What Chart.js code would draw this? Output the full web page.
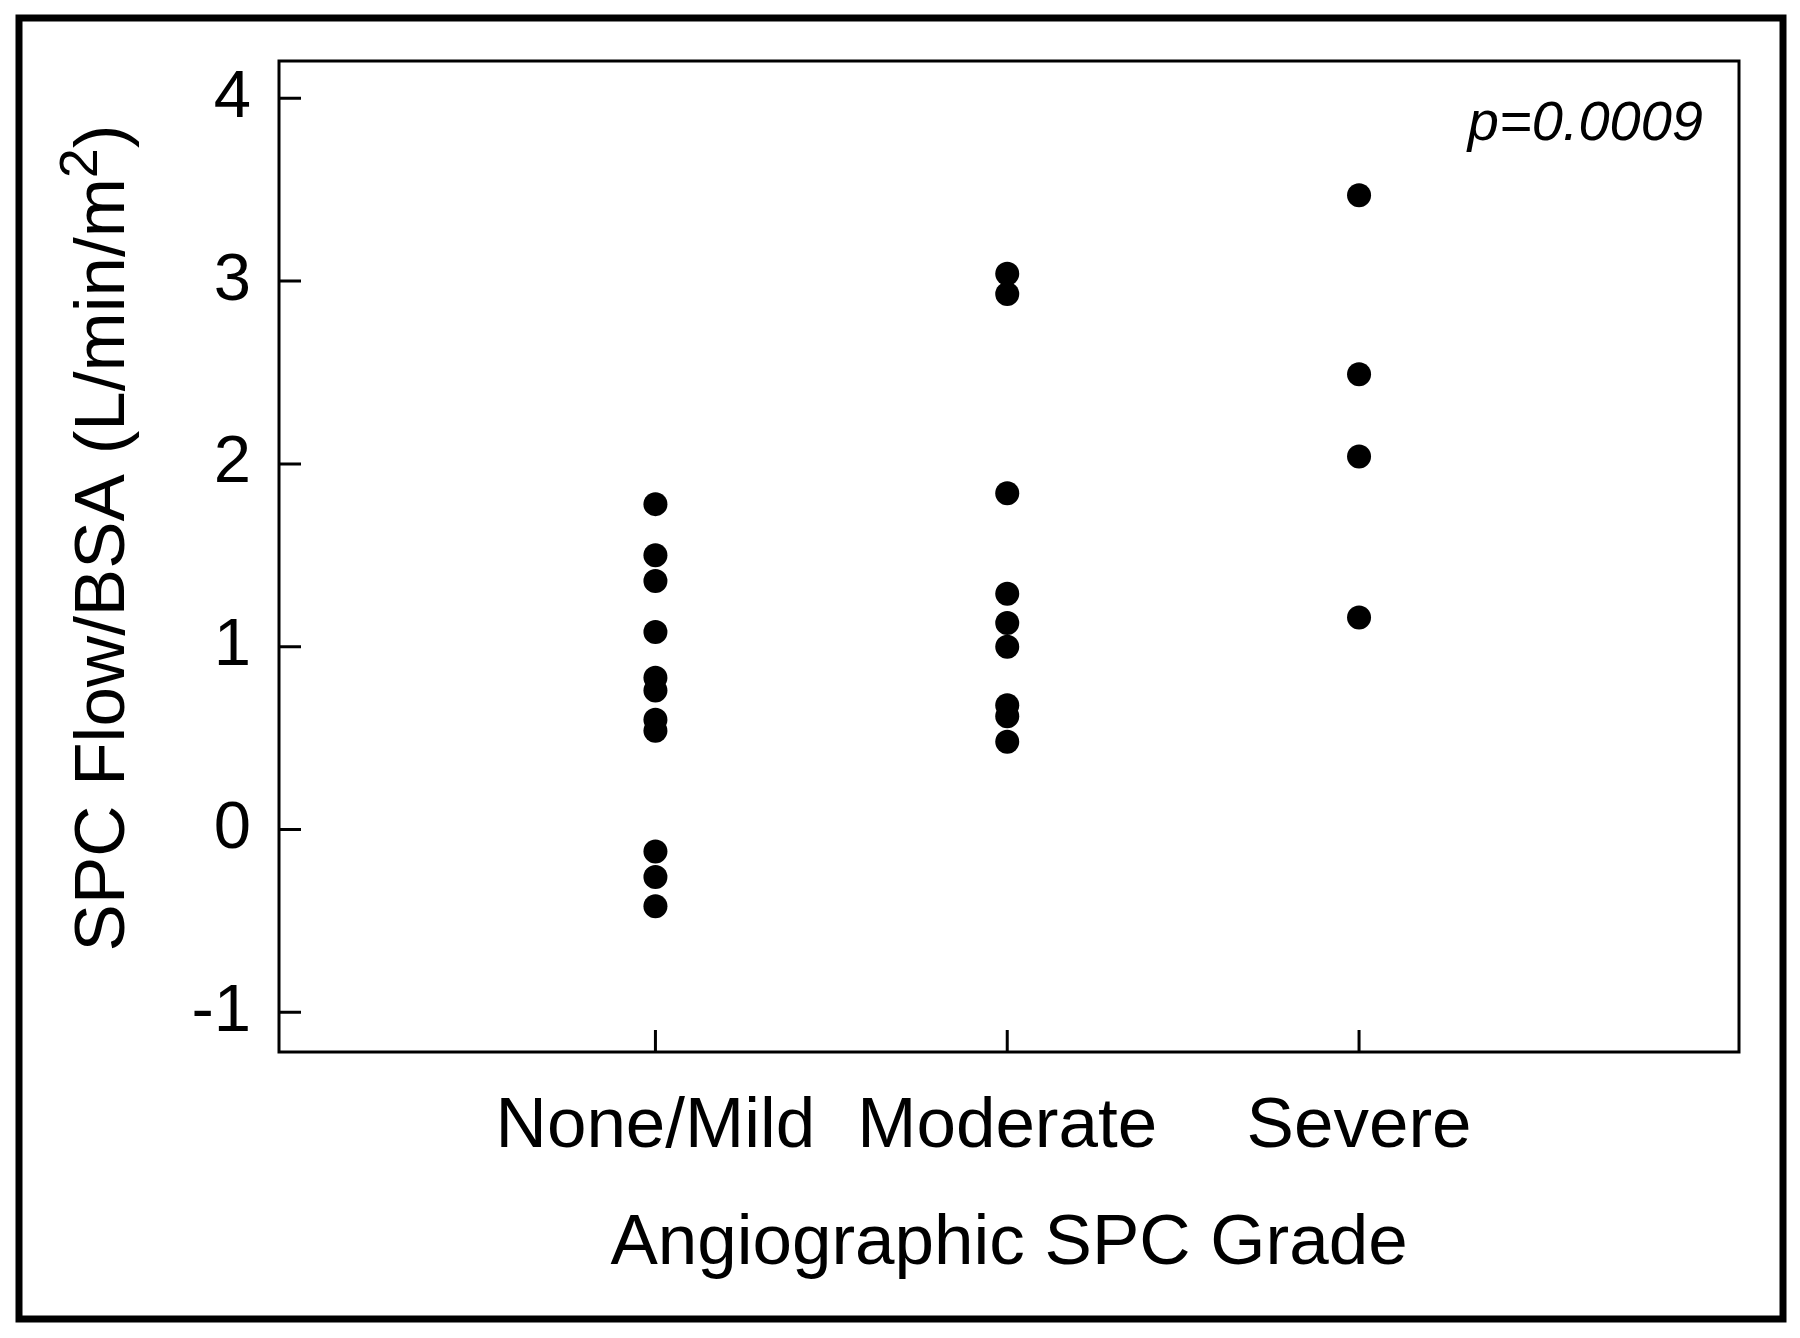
<!DOCTYPE html>
<html>
<head>
<meta charset="utf-8">
<title>SPC Flow/BSA by Angiographic SPC Grade</title>
<script src="https://cdn.jsdelivr.net/npm/chart.js@4.4.1/dist/chart.umd.min.js"></script>
<style>
  html, body { margin: 0; padding: 0; background: #fff; }
  canvas { display: block; }
</style>
</head>
<body>
<canvas id="myChart" width="1800" height="1338"></canvas>
<script>
// Data
const categories = ['None/Mild', 'Moderate', 'Severe'];
const categoryPositions = [1, 2, 3];
const noneMildValues = [1.78, 1.50, 1.36, 1.08, 0.83, 0.76, 0.60, 0.54, -0.12, -0.26, -0.42];
const moderateValues = [3.04, 2.93, 1.84, 1.29, 1.13, 1.00, 0.68, 0.62, 0.48];
const severeValues = [3.47, 2.49, 2.04, 1.16];
const yTickValues = [-1, 0, 1, 2, 3, 4];
const pValueText = 'p=0.0009';
// y title is drawn in three parts so the squared unit can be a raised 2
const yTitleMain = 'SPC Flow/BSA (L/min/m';
const yTitleSup = '2';
const yTitleEnd = ')';

const fontFamily = '"Liberation Sans", Arial, Helvetica, sans-serif';

// Turn each group into scatter points at its category position
function toPoints(values, position) {
  return values.map(v => ({ x: position, y: v }));
}

const allPoints = []
  .concat(toPoints(noneMildValues, categoryPositions[0]))
  .concat(toPoints(moderateValues, categoryPositions[1]))
  .concat(toPoints(severeValues, categoryPositions[2]));

// Frames, inward tick marks, y title and the p-value note
const decorationsPlugin = {
  id: 'decorations',
  beforeDatasetsDraw(chart) {
    const ctx = chart.ctx;
    const area = chart.chartArea;
    const xScale = chart.scales.x;
    const yScale = chart.scales.y;

    ctx.save();
    ctx.strokeStyle = '#000';
    ctx.lineWidth = 3;
    ctx.strokeRect(area.left, area.top, area.right - area.left, area.bottom - area.top);

    // tick marks pointing into the plot
    ctx.beginPath();
    yScale.ticks.forEach(t => {
      const py = yScale.getPixelForValue(t.value);
      ctx.moveTo(area.left, py);
      ctx.lineTo(area.left + 22, py);
    });
    xScale.ticks.forEach(t => {
      const px = xScale.getPixelForValue(t.value);
      ctx.moveTo(px, area.bottom);
      ctx.lineTo(px, area.bottom - 22);
    });
    ctx.stroke();

    // outer frame round the whole figure
    ctx.lineWidth = 7;
    ctx.strokeRect(19, 18, 1764, 1301);

    // p-value
    ctx.fillStyle = '#000';
    ctx.font = 'italic 56px ' + fontFamily;
    ctx.textAlign = 'right';
    ctx.textBaseline = 'alphabetic';
    ctx.fillText(pValueText, area.right - 36, 140);

    // y axis title, rotated
    const mainFont = '71px ' + fontFamily;
    const supFont = '54px ' + fontFamily;
    ctx.font = mainFont;
    const wMain = ctx.measureText(yTitleMain).width;
    const wEnd = ctx.measureText(yTitleEnd).width;
    ctx.font = supFont;
    const wSup = ctx.measureText(yTitleSup).width;
    const total = wMain + wSup + wEnd;
    ctx.translate(124, 538);
    ctx.rotate(-Math.PI / 2);
    ctx.textAlign = 'left';
    let x0 = -total / 2;
    ctx.font = mainFont;
    ctx.fillText(yTitleMain, x0, 0);
    x0 += wMain;
    ctx.font = supFont;
    ctx.fillText(yTitleSup, x0, -27);
    x0 += wSup;
    ctx.font = mainFont;
    ctx.fillText(yTitleEnd, x0, 0);
    ctx.restore();
  }
};

const canvas = document.getElementById('myChart');

const chartData = {
  datasets: [
    {
      label: 'SPC Flow/BSA',
      data: allPoints,
      backgroundColor: '#000',
      borderColor: '#000',
      pointRadius: 12,
      pointHoverRadius: 12,
      borderWidth: 0
    }
  ]
};

const chartOptions = {
  responsive: false,
  animation: false,
  devicePixelRatio: 1,
  layout: {
    padding: { top: 61, right: 61, left: 0, bottom: 0 }
  },
  plugins: {
    legend: { display: false },
    tooltip: { enabled: false }
  },
  scales: {
    x: {
      type: 'linear',
      min: -0.07,
      max: 4.08,
      afterBuildTicks: scale => {
        scale.ticks = categoryPositions.map(v => ({ value: v }));
      },
      afterFit: scale => {
        scale.height = 286;
      },
      grid: { display: false, drawTicks: false },
      border: { display: false },
      ticks: {
        autoSkip: false,
        maxRotation: 0,
        padding: 33,
        color: '#000',
        font: { family: fontFamily, size: 71 },
        callback: value => categories[categoryPositions.indexOf(value)] || ''
      },
      title: {
        display: true,
        text: 'Angiographic SPC Grade',
        color: '#000',
        font: { family: fontFamily, size: 71 },
        padding: { top: 0, bottom: 51 }
      }
    },
    y: {
      type: 'linear',
      min: -1.217,
      max: 4.204,
      afterBuildTicks: scale => {
        scale.ticks = yTickValues.map(v => ({ value: v }));
      },
      afterFit: scale => {
        // fixed axis width; no extra room asked for the end labels
        scale.width = 279;
        scale.paddingTop = 0;
        scale.paddingBottom = 0;
      },
      grid: { display: false, drawTicks: false },
      border: { display: false },
      ticks: {
        padding: 28,
        color: '#000',
        font: { family: fontFamily, size: 67 }
      },
      title: { display: false }
    }
  }
};

const scatterChart = new Chart(canvas, {
  type: 'scatter',
  data: chartData,
  options: chartOptions,
  plugins: [decorationsPlugin]
});
</script>
</body>
</html>
